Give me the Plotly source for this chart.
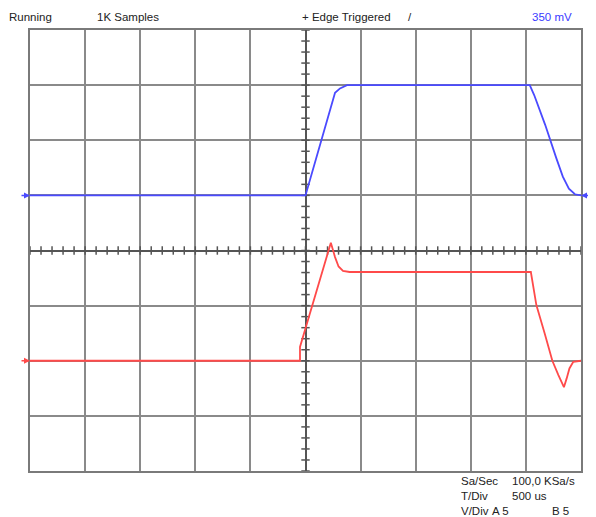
import numpy as np
import plotly.graph_objects as go

# Time in microseconds (T/Div = 500 us), voltage in volts (V/Div = 5)
blue_t = [-2500, 0, 268, 313, 376, 2035, 2075, 2175, 2275, 2335, 2390, 2445, 2500]
blue_v = [5, 5, 14.3, 14.7, 15, 15, 14.1, 11.4, 8.4, 6.7, 5.6, 5.1, 5]

red_t = [-2500, -50, -50, 230, 268, 300, 340, 400, 2045, 2065, 2095, 2170, 2240,
         2295, 2345, 2370, 2395, 2430, 2475, 2500]
red_v = [-10, -10, -8.75, 0.7, -0.6, -1.45, -1.85, -1.95, -1.95, -3.3, -4.95, -7.5,
         -10, -11.3, -12.4, -11.6, -10.7, -10.1, -10, -10]

t_div = 500
v_div = 5
x_range = [-5 * t_div, 5 * t_div]
y_range = [-4 * v_div, 4 * v_div]

header = ["Running", "1K Samples", "+ Edge Triggered", "/", "350 mV"]
footer = ["Sa/Sec", "100,0 KSa/s", "T/Div", "500 us", "V/Div", "A 5", "B 5"]

FONT = "Liberation Sans, Arial, sans-serif"
FS = 11.5

fig = go.Figure()

# center axis tick marks
xt = np.arange(x_range[0], x_range[1] + 1, t_div / 5)
yt = np.arange(y_range[0], y_range[1] + 0.01, v_div / 5)
fig.add_trace(go.Scatter(x=xt, y=np.zeros_like(xt), mode="markers",
                         marker=dict(symbol="line-ns", size=6,
                                     line=dict(color="#555555", width=1.5)),
                         hoverinfo="skip", showlegend=False))
fig.add_trace(go.Scatter(x=np.zeros_like(yt), y=yt, mode="markers",
                         marker=dict(symbol="line-ew", size=6,
                                     line=dict(color="#555555", width=1.5)),
                         hoverinfo="skip", showlegend=False))

fig.add_trace(go.Scatter(x=blue_t, y=blue_v, mode="lines",
                         line=dict(color="#4a4aff", width=1.8),
                         showlegend=False, name="A"))
fig.add_trace(go.Scatter(x=red_t, y=red_v, mode="lines",
                         line=dict(color="#ff4a4a", width=1.8),
                         showlegend=False, name="B"))

axis_common = dict(showgrid=True, gridcolor="#8a8a8a", gridwidth=2,
                   showline=True, linecolor="#7a7a7a", linewidth=2, mirror=True,
                   zeroline=True, zerolinecolor="#555555", zerolinewidth=1.8,
                   showticklabels=False, ticks="", fixedrange=True)
fig.update_xaxes(range=x_range, dtick=t_div, tick0=0, **axis_common)
fig.update_yaxes(range=y_range, dtick=v_div, tick0=0, **axis_common)

ann = []
def txt(s, x, y, color="#222222", xanchor="left", size=FS):
    ann.append(dict(text=s, x=x, y=y, xref="paper", yref="paper", showarrow=False,
                    xanchor=xanchor, yanchor="middle",
                    font=dict(family=FONT, size=size, color=color)))

# positions measured in reference window pixels, plot area x 30..581, y 30..471
def px(x):
    return (x - 30) / 551
def py(y):
    return (471 - y) / 441

txt(header[0], px(7), py(17))
txt(header[1], px(95), py(17))
txt(header[2], px(300), py(17))
txt(header[3], px(406), py(17))
txt(header[4], px(574), py(17), color="#3a3aff", xanchor="right")

txt(footer[0], px(459), py(481))
txt(footer[1], px(510), py(481))
txt(footer[2], px(459), py(496))
txt(footer[3], px(510), py(496))
txt(footer[4], px(459), py(511))
txt(footer[5], px(490), py(511))
txt(footer[6], px(550), py(511))

# trace markers (arrows)
for yv, col in [(blue_v[0], "#4a4aff"), (red_v[0], "#ff4a4a")]:
    ann.append(dict(x=x_range[0], y=yv, xref="x", yref="y", ax=-10, ay=0,
                    showarrow=True, arrowhead=2, arrowsize=0.8, arrowwidth=1.5,
                    arrowcolor=col, text=""))
ann.append(dict(x=x_range[1], y=blue_v[-1], xref="x", yref="y", ax=9, ay=0,
                showarrow=True, arrowhead=2, arrowsize=0.8, arrowwidth=1.5,
                arrowcolor="#4a4aff", text=""))
txt("1", px(587), py(192), color="#4a4aff", size=9)

# page body has an 8px margin, so the figure is shrunk by 8px to fit the window
fig.update_layout(width=588, height=509,
                  margin=dict(l=22, r=15, t=22, b=46, autoexpand=False),
                  paper_bgcolor="white", plot_bgcolor="white",
                  annotations=ann, showlegend=False,
                  font=dict(family=FONT, size=FS))

fig.write_html("out.html", config={"displayModeBar": False})
